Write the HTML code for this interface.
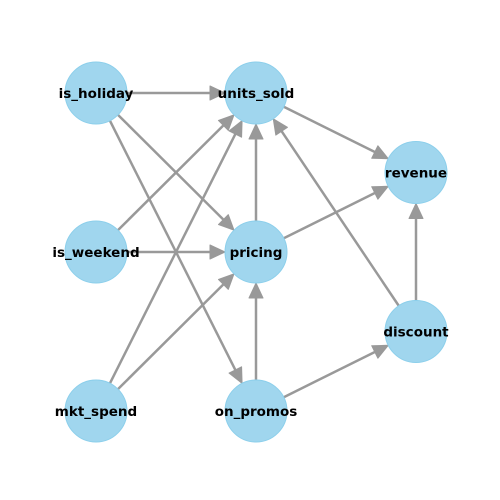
<!DOCTYPE html>
<html><head><meta charset="utf-8"><style>
html,body{margin:0;padding:0;background:#fff}
svg{display:block}
text{font-family:"DejaVu Sans","Liberation Sans",sans-serif;font-weight:bold;font-size:13.5px}
</style></head><body>
<svg id="g" width="500" height="500"></svg>
<script>
const nodeNames=["is_holiday","units_sold","revenue","is_weekend","pricing","discount","mkt_spend","on_promos"];
const nodeCol=[0,1,2,0,1,2,0,1];
const nodeRow=[0,0,0.5,1,1,1.5,2,2];
const edgeSource=["is_holiday","is_holiday","is_holiday","is_weekend","is_weekend","mkt_spend","mkt_spend","pricing","pricing","units_sold","on_promos","on_promos","discount","discount"];
const edgeTarget=["units_sold","pricing","on_promos","units_sold","pricing","units_sold","pricing","units_sold","revenue","revenue","pricing","discount","revenue","units_sold"];
const NS="http://www.w3.org/2000/svg";
const svg=document.getElementById('g');
const sx=c=>96+c*160, sy=r=>93+r*159;
const R=31;
const pos={};
nodeNames.forEach((n,i)=>pos[n]=[sx(nodeCol[i]),sy(nodeRow[i])]);
const eg=document.createElementNS(NS,'g');


svg.appendChild(eg);
edgeSource.forEach((s,i)=>{
  const t=edgeTarget[i];
  const [x1,y1]=pos[s],[x2,y2]=pos[t];
  const dx=x2-x1,dy=y2-y1,L=Math.hypot(dx,dy),ux=dx/L,uy=dy/L;
  const ax=x1+ux*R,ay=y1+uy*R;
  const tx=x2-ux*R,ty=y2-uy*R;
  const bx=tx-ux*15,by=ty-uy*15;
  const g=document.createElementNS(NS,'g');
  
  
  const l=document.createElementNS(NS,'line');
  l.setAttribute('x1',ax);l.setAttribute('y1',ay);l.setAttribute('x2',bx+ux*2);l.setAttribute('y2',by+uy*2);
  l.setAttribute('stroke','#999');l.setAttribute('stroke-width','2.5');
  g.appendChild(l);
  const p=document.createElementNS(NS,'polygon');
  const px=-uy,py=ux;
  p.setAttribute('points',`${tx},${ty} ${bx+px*7},${by+py*7} ${bx-px*7},${by-py*7}`);
  p.setAttribute('fill','#999');p.setAttribute('stroke','#999');p.setAttribute('stroke-linejoin','round');
  g.appendChild(p);
  eg.appendChild(g);
});
nodeNames.forEach(n=>{
  const [x,y]=pos[n];
  const g=document.createElementNS(NS,'g');
  
  
  const c=document.createElementNS(NS,'circle');
  c.setAttribute('cx',x);c.setAttribute('cy',y);c.setAttribute('r',R);
  c.setAttribute('fill','#a0d6ee');c.setAttribute('stroke','#8ccfeb');c.setAttribute('stroke-width','1');
  g.appendChild(c);
  const tx=document.createElementNS(NS,'text');
  tx.setAttribute('x',x);tx.setAttribute('y',y+5);tx.setAttribute('text-anchor','middle');
  tx.textContent=n;
  g.appendChild(tx);
  svg.appendChild(g);
});
</script>
</body></html>
